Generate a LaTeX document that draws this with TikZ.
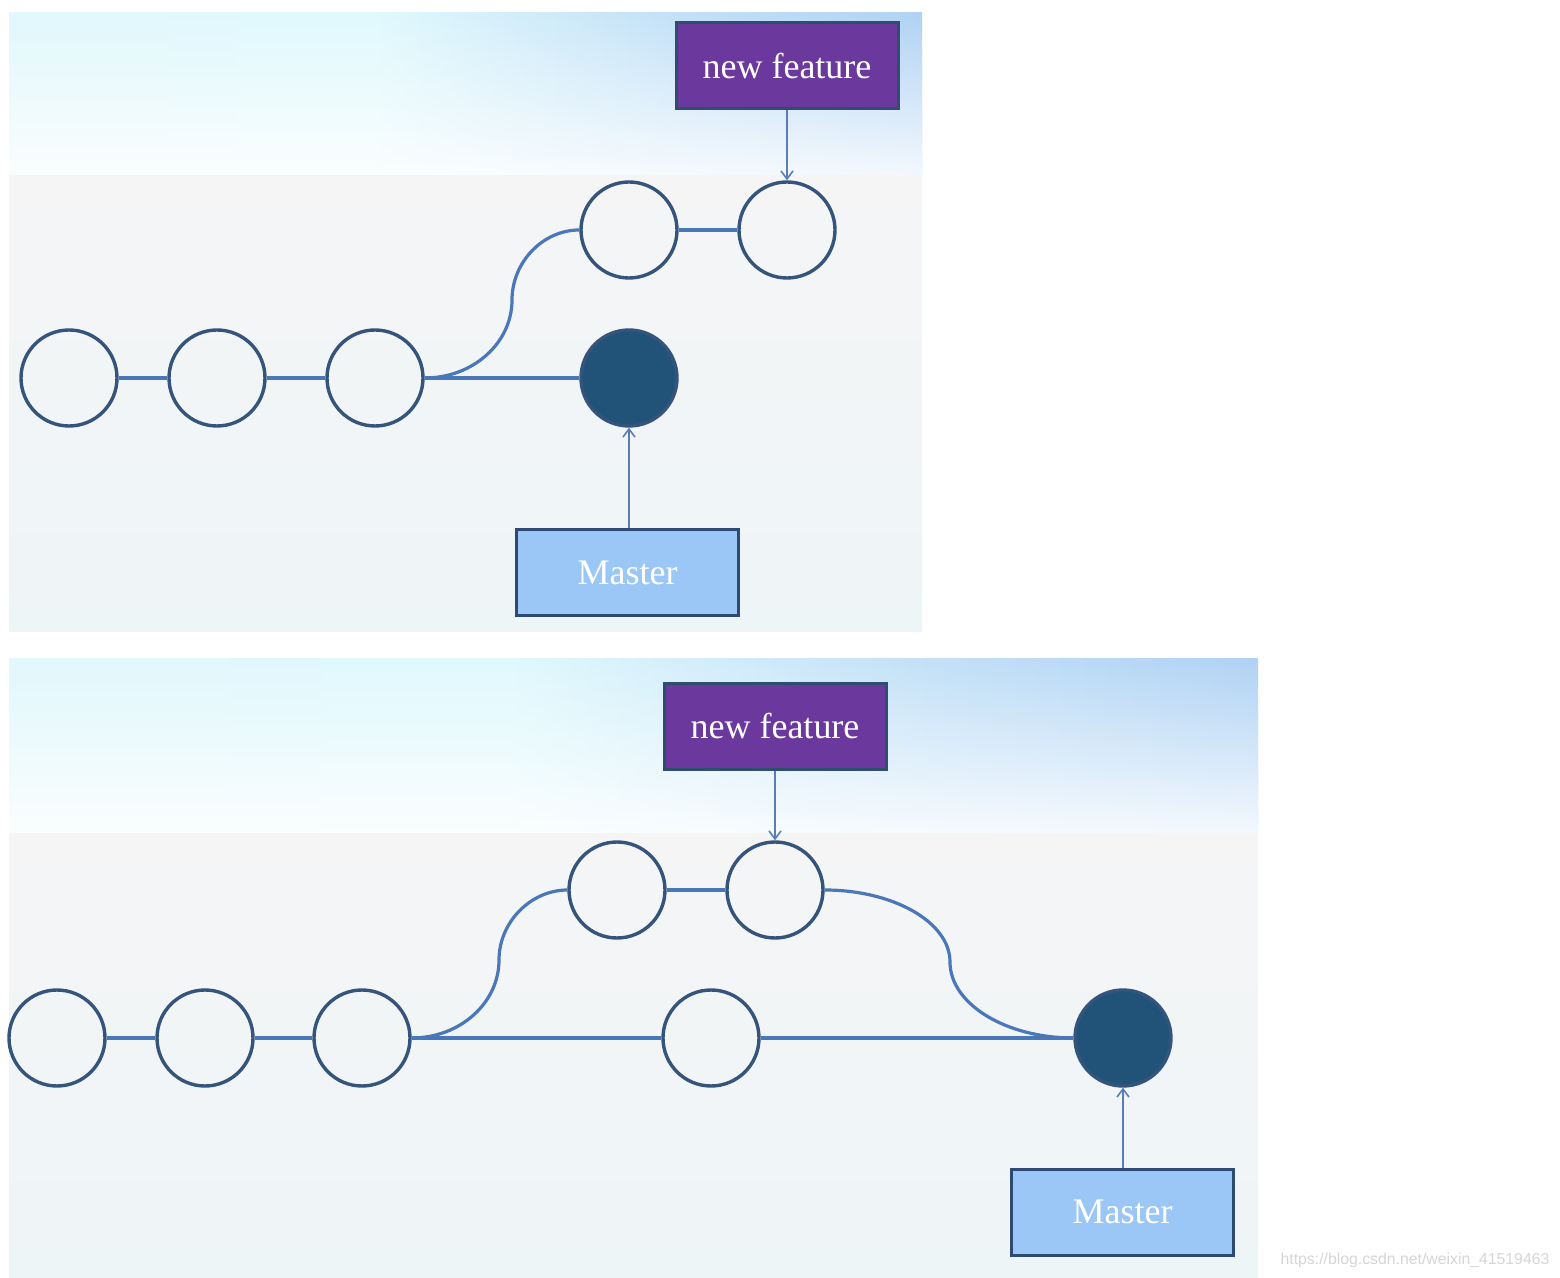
\documentclass[tikz,border=0pt]{standalone}
\usepackage{fontspec}
\setmainfont{Liberation Serif}
\newfontfamily\wmfont{Liberation Sans}
\usetikzlibrary{fadings,arrows.meta}
\definecolor{cstroke}{HTML}{34547C}
\definecolor{cfill}{HTML}{215379}
\definecolor{conncol}{HTML}{4A76BA}
\definecolor{ptrcol}{HTML}{5A7DB8}
\definecolor{nfcol}{HTML}{6B389E}
\definecolor{nfborder}{HTML}{2F4D6D}
\definecolor{mfill}{HTML}{9BC7F7}
\definecolor{mborder}{HTML}{2F4A72}
\definecolor{skyL}{HTML}{E2F6FB}
\definecolor{skyM}{HTML}{E0F9FD}
\definecolor{skyN}{HTML}{C2E0F7}
\definecolor{skyR}{HTML}{8DB7EE}
\definecolor{bgtop}{HTML}{F5F5F6}
\definecolor{bgbot}{HTML}{EEF5F7}
\definecolor{wmcol}{HTML}{D6D6D6}
\pgfdeclarehorizontalshading{skyshade}{100bp}{color(0bp)=(skyL); color(45bp)=(skyM); color(62bp)=(skyN); color(100bp)=(skyR)}
\begin{document}
\begin{tikzpicture}[x=0.5pt,y=-0.5pt,
  commit/.style={circle, draw=cstroke, line width=1.7pt, minimum size=48pt, inner sep=0pt},
  headcommit/.style={commit, fill=cfill},
  conn/.style={draw=conncol, line width=1.6pt},
  ptr/.style={draw=ptrcol, line width=0.8pt, -{Straight Barb[length=4pt,width=6pt]}},
  nfbox/.style={rectangle, fill=nfcol, draw=nfborder, line width=1.5pt, minimum width=111pt, minimum height=43pt, text=white, font=\fontsize{18}{20}\selectfont},
  mbox/.style={rectangle, fill=mfill, draw=mborder, line width=1.5pt, minimum width=111pt, minimum height=43pt, text=white, font=\fontsize{18}{20}\selectfont}
]
\useasboundingbox[fill=white] (0,0) rectangle (1560,1278);

% ---------- panel 1 background ----------
\shade[top color=bgtop, bottom color=bgbot] (9,175) rectangle (922,632);
\begin{scope}
  \clip (9,13) rectangle (922,175);
  \shade[shading=skyshade] (9,13) rectangle (922,175);
  \fill[white, fill opacity=0.9, path fading=north] (0,13) rectangle (930,185);
\end{scope}

% ---------- panel 2 background ----------
\shade[top color=bgtop, bottom color=bgbot] (9,832) rectangle (1258,1277);
\begin{scope}
  \clip (9,659) rectangle (1258,832);
  \shade[shading=skyshade] (9,659) rectangle (1258,832);
  \fill[white, fill opacity=0.9, path fading=north] (0,659) rectangle (1270,842);
\end{scope}

% ---------- panel 1 ----------
\node[commit] (a1) at (69,378) {};
\node[commit] (a2) at (217,378) {};
\node[commit] (a3) at (375,378) {};
\node[headcommit] (a4) at (629,378) {};
\node[commit] (b1) at (629,230) {};
\node[commit] (b2) at (787,230) {};
\coordinate (m1) at (512,300);
\draw[conn] (a1) -- (a2);
\draw[conn] (a2) -- (a3);
\draw[conn] (a3) -- (a4);
\draw[conn] (b1) -- (b2);
\draw[conn] (a3.east) .. controls (473,378) and (512,343) .. (m1)
  .. controls (512,262) and (543,230) .. (b1.west);
\node[nfbox] (nf1) at (787,66) {new feature};
\node[mbox] (ms1) at (627.5,573) {Master};
\draw[ptr] (nf1.south) -- (b2.north);
\draw[ptr] (ms1.north -| a4) -- (a4.south);

% ---------- panel 2 ----------
\node[commit] (c1) at (57,1038) {};
\node[commit] (c2) at (205,1038) {};
\node[commit] (c3) at (362,1038) {};
\node[commit] (c4) at (711,1038) {};
\node[headcommit] (c5) at (1123,1038) {};
\node[commit] (d1) at (617,890) {};
\node[commit] (d2) at (775,890) {};
\coordinate (m2) at (499,960);
\coordinate (m3) at (950,962);
\draw[conn] (c1) -- (c2);
\draw[conn] (c2) -- (c3);
\draw[conn] (c3) -- (c4);
\draw[conn] (c4) -- (c5);
\draw[conn] (d1) -- (d2);
\draw[conn] (c3.east) .. controls (460,1038) and (499,1003) .. (m2)
  .. controls (499,922) and (531,890) .. (d1.west);
\draw[conn] (d2.east) .. controls (893,890) and (950,922) .. (m3)
  .. controls (950,1004) and (1006,1038) .. (c5.west);
\node[nfbox] (nf2) at (775,726.5) {new feature};
\node[mbox] (ms2) at (1122.5,1212) {Master};
\draw[ptr] (nf2.south) -- (d2.north);
\draw[ptr] (ms2.north -| c5) -- (c5.south);

% ---------- watermark ----------
\node[text=wmcol, font=\wmfont\fontsize{7.9}{9}\selectfont, inner sep=0pt] (wm) at (1415,1260) {https://blog.csdn.net/weixin\_41519463};
\end{tikzpicture}
\end{document}
